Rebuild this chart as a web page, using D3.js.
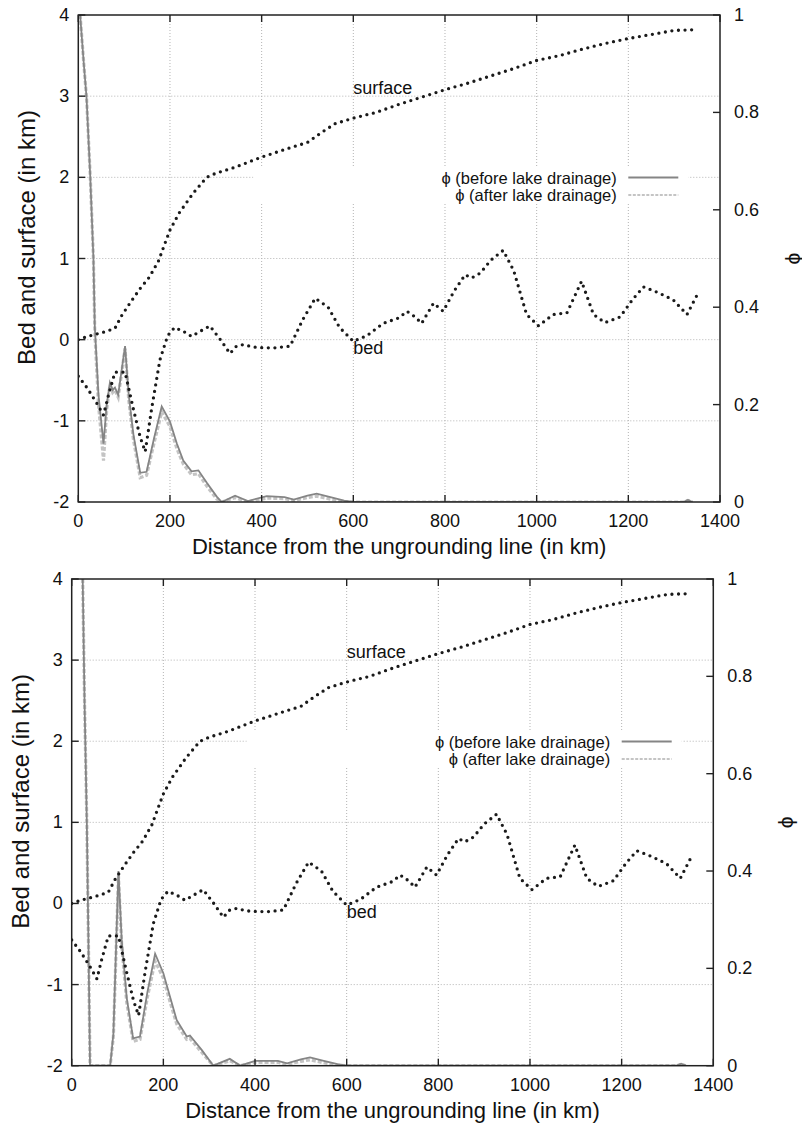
<!DOCTYPE html>
<html><head><meta charset="utf-8">
<script src="https://cdn.jsdelivr.net/npm/d3@7"></script>
<style>
body{margin:0;background:#fff}
text{font-family:"Liberation Sans", Arial, Helvetica, sans-serif; fill:#111}
</style>
</head><body>
<svg id="c" width="802" height="1123"></svg>
<script>
// ---------- data ----------
const xTicks = [0, 200, 400, 600, 800, 1000, 1200, 1400];
const yTicks = [-2, -1, 0, 1, 2, 3, 4];
const y2Ticks = [0, 0.2, 0.4, 0.6, 0.8, 1];
const y2TickLabels = ["0", "0.2", "0.4", "0.6", "0.8", "1"];
const xGrid = [200, 400, 600, 800, 1000, 1200];
const yGrid = [-1, 0, 1, 2, 3];

const surfaceDist = [0, 20, 40, 60, 80, 95, 115, 135, 155, 175, 190, 200, 220, 250, 280, 300, 340, 400, 460, 500, 530, 560, 600, 650, 700, 750, 800, 850, 900, 950, 1000, 1050, 1100, 1150, 1200, 1250, 1300, 1350];
const surfaceKm = [0.0, 0.04, 0.07, 0.1, 0.14, 0.3, 0.47, 0.63, 0.77, 0.97, 1.2, 1.35, 1.56, 1.8, 2.0, 2.05, 2.12, 2.25, 2.36, 2.43, 2.55, 2.66, 2.73, 2.8, 2.9, 2.99, 3.08, 3.16, 3.25, 3.34, 3.44, 3.5, 3.58, 3.65, 3.71, 3.76, 3.81, 3.82];

const bedDist = [0, 20, 40, 55, 65, 80, 102, 120, 135, 146, 160, 178, 195, 210, 230, 247, 265, 287, 310, 331, 345, 360, 380, 404, 430, 462, 490, 517, 545, 570, 600, 630, 665, 700, 717, 735, 749, 775, 796, 820, 844, 858, 877, 900, 927, 950, 978, 1004, 1036, 1066, 1098, 1124, 1149, 1182, 1210, 1233, 1265, 1298, 1328, 1349];
const bedKm = [-0.45, -0.6, -0.78, -0.93, -0.7, -0.4, -0.4, -0.85, -1.2, -1.38, -0.85, -0.25, 0.05, 0.15, 0.1, 0.04, 0.1, 0.17, 0.0, -0.17, -0.08, -0.06, -0.09, -0.1, -0.1, -0.08, 0.25, 0.51, 0.4, 0.15, -0.02, 0.05, 0.2, 0.27, 0.35, 0.28, 0.2, 0.45, 0.35, 0.6, 0.8, 0.76, 0.82, 0.98, 1.1, 0.85, 0.31, 0.17, 0.31, 0.33, 0.72, 0.31, 0.21, 0.28, 0.5, 0.65, 0.58, 0.49, 0.31, 0.54];

const phiDistTop = [4, 12, 18, 26, 33, 36, 44, 55, 62, 69, 75, 80, 87, 102, 110, 120, 135, 149, 165, 182, 200, 215, 229, 247, 262, 280, 302, 313, 342, 370, 411, 450, 470, 500, 520, 550, 580, 600, 800, 1000, 1200, 1320, 1330, 1340];
const phiBeforeTop = [1.0, 0.9, 0.83, 0.67, 0.5, 0.36, 0.22, 0.12, 0.2, 0.245, 0.23, 0.235, 0.22, 0.32, 0.22, 0.14, 0.06, 0.062, 0.13, 0.196, 0.165, 0.12, 0.085, 0.063, 0.065, 0.04, 0.011, 0.0, 0.013, 0.002, 0.012, 0.01, 0.005, 0.013, 0.017, 0.01, 0.003, 0.0, 0, 0, 0, 0, 0.004, 0];
const phiAfterTop = [1.0, 0.9, 0.83, 0.67, 0.5, 0.35, 0.2, 0.085, 0.19, 0.24, 0.225, 0.23, 0.215, 0.315, 0.21, 0.13, 0.05, 0.055, 0.12, 0.185, 0.155, 0.11, 0.078, 0.056, 0.058, 0.033, 0.006, 0.0, 0.009, 0.0, 0.008, 0.007, 0.003, 0.009, 0.012, 0.006, 0.001, 0, 0, 0, 0, 0, 0.003, 0];

const phiDistBottom = [24, 28, 33, 37, 40, 60, 84, 91, 102, 109, 120, 134, 149, 165, 182, 200, 215, 229, 251, 258, 284, 309, 345, 368, 400, 450, 470, 500, 520, 550, 580, 600, 800, 1000, 1200, 1320, 1330, 1340];
const phiBeforeBottom = [1.0, 0.75, 0.5, 0.22, 0, 0, 0, 0.066, 0.4, 0.26, 0.14, 0.056, 0.06, 0.15, 0.23, 0.19, 0.14, 0.094, 0.06, 0.062, 0.032, 0, 0.014, 0, 0.01, 0.01, 0.005, 0.013, 0.017, 0.01, 0.003, 0, 0, 0, 0, 0, 0.004, 0];
const phiAfterBottom = [1.0, 0.75, 0.5, 0.22, 0, 0, 0, 0.06, 0.39, 0.25, 0.13, 0.05, 0.054, 0.14, 0.215, 0.18, 0.13, 0.086, 0.054, 0.056, 0.027, 0, 0.01, 0, 0.007, 0.007, 0.003, 0.009, 0.012, 0.006, 0.001, 0, 0, 0, 0, 0, 0.003, 0];

const legendLabels = ["\u03d5 (before lake drainage)", "\u03d5 (after lake drainage)"];
const xLabel = "Distance from the ungrounding line (in km)";
const yLabel = "Bed and surface (in km)";
const y2Label = "\u03d5";

// ---------- drawing ----------
const svg = d3.select("#c");
const panels = [
  {L: 78.3, R: 720, T: 15, B: 502, dist: phiDistTop, before: phiBeforeTop, after: phiAfterTop},
  {L: 71.7, R: 713.3, T: 579, B: 1065.7, dist: phiDistBottom, before: phiBeforeBottom, after: phiAfterBottom}
];

panels.forEach((p, i) => {
  const g = svg.append("g");
  const x = d3.scaleLinear().domain([0, 1400]).range([p.L, p.R]);
  const y = d3.scaleLinear().domain([-2, 4]).range([p.B, p.T]);
  const y2 = d3.scaleLinear().domain([0, 1]).range([p.B, p.T]);

  const clipId = "clip" + i;
  svg.append("clipPath").attr("id", clipId).append("rect")
    .attr("x", p.L).attr("y", p.T).attr("width", p.R - p.L).attr("height", p.B - p.T);

  // grid
  const grid = g.append("g").attr("stroke", "#b4b4b4").attr("stroke-width", 1).attr("stroke-dasharray", "1,2");
  grid.selectAll("line.v").data(xGrid).join("line")
    .attr("x1", d => x(d)).attr("x2", d => x(d)).attr("y1", p.T).attr("y2", p.B);
  grid.selectAll("line.h").data(yGrid).join("line")
    .attr("x1", p.L).attr("x2", p.R).attr("y1", d => y(d)).attr("y2", d => y(d));

  // legend box (opaque)
  g.append("rect").attr("x", p.L + 175).attr("y", p.T + 153).attr("width", 435).attr("height", 36).attr("fill", "#fff");

  const curves = g.append("g").attr("clip-path", `url(#${clipId})`);
  const lineKm = d3.line().x(d => x(d[0])).y(d => y(d[1]));
  const linePhi = d3.line().x(d => x(d[0])).y(d => y2(d[1]));

  // phi after (light dashed, wide) then before (solid grey)
  curves.append("path").datum(p.dist.map((d, k) => [d, p.after[k]]))
    .attr("d", linePhi).attr("fill", "none").attr("stroke", "#c4c4c4").attr("stroke-width", 3.2)
    .attr("stroke-dasharray", "4,2");
  curves.append("path").datum(p.dist.map((d, k) => [d, p.before[k]]))
    .attr("d", linePhi).attr("fill", "none").attr("stroke", "#858585").attr("stroke-width", 1.8);

  // surface and bed dotted
  [[surfaceDist, surfaceKm], [bedDist, bedKm]].forEach(([xs, ys]) => {
    curves.append("path").datum(xs.map((d, k) => [d, ys[k]]))
      .attr("d", lineKm).attr("fill", "none").attr("stroke", "#1a1a1a")
      .attr("stroke-width", 3.3).attr("stroke-linecap", "round").attr("stroke-dasharray", "0,6.6");
  });

  // border
  g.append("rect").attr("x", p.L).attr("y", p.T).attr("width", p.R - p.L).attr("height", p.B - p.T)
    .attr("fill", "none").attr("stroke", "#222").attr("stroke-width", 1.5);

  // ticks
  const tk = g.append("g").attr("stroke", "#222").attr("stroke-width", 1.4);
  const tl = 7;
  tk.selectAll("line.xb").data(xTicks).join("line").attr("class", "xb")
    .attr("x1", d => x(d)).attr("x2", d => x(d)).attr("y1", p.B).attr("y2", p.B - tl);
  tk.selectAll("line.xt").data(xTicks).join("line").attr("class", "xt")
    .attr("x1", d => x(d)).attr("x2", d => x(d)).attr("y1", p.T).attr("y2", p.T + tl);
  tk.selectAll("line.yl").data(yTicks).join("line").attr("class", "yl")
    .attr("x1", p.L).attr("x2", p.L + tl).attr("y1", d => y(d)).attr("y2", d => y(d));
  tk.selectAll("line.yr").data(y2Ticks).join("line").attr("class", "yr")
    .attr("x1", p.R).attr("x2", p.R - tl).attr("y1", d => y2(d)).attr("y2", d => y2(d));

  // tick labels
  const fs = 18;
  g.selectAll("text.xl").data(xTicks).join("text").attr("class", "xl")
    .attr("x", d => x(d)).attr("y", p.B + 19).attr("text-anchor", "middle")
    .attr("dominant-baseline", "central").attr("font-size", fs).text(d => d);
  g.selectAll("text.yl").data(yTicks).join("text").attr("class", "yl")
    .attr("x", p.L - 9).attr("y", d => y(d)).attr("text-anchor", "end")
    .attr("dominant-baseline", "central").attr("font-size", fs).text(d => d);
  g.selectAll("text.y2l").data(y2Ticks).join("text").attr("class", "y2l")
    .attr("x", p.R + 14).attr("y", d => y2(d)).attr("text-anchor", "start")
    .attr("dominant-baseline", "central").attr("font-size", fs).text((d, k) => y2TickLabels[k]);

  // axis labels
  g.append("text").attr("x", (p.L + p.R) / 2).attr("y", p.B + 52).attr("text-anchor", "middle")
    .attr("font-size", 22).text(xLabel);
  g.append("text").attr("transform", `translate(${p.L - 43},${(p.T + p.B) / 2 - 21}) rotate(-90)`)
    .attr("text-anchor", "middle").attr("font-size", 24).text(yLabel);
  g.append("text").attr("transform", `translate(${p.R + 72},${(p.T + p.B) / 2}) rotate(-90)`)
    .attr("text-anchor", "middle").attr("dominant-baseline", "central").attr("font-size", 21).text(y2Label);

  // curve labels
  g.append("text").attr("x", x(600)).attr("y", y(3.1)).attr("dominant-baseline", "central")
    .attr("font-size", fs).text("surface");
  g.append("text").attr("x", x(600)).attr("y", y(-0.1)).attr("dominant-baseline", "central")
    .attr("font-size", fs).text("bed");

  // legend
  const lg = g.append("g");
  legendLabels.forEach((t, k) => {
    const yy = p.T + 162.5 + k * 17.5;
    lg.append("text").attr("x", p.L + 538.5).attr("y", yy).attr("text-anchor", "end")
      .attr("dominant-baseline", "central").attr("font-size", 16.5).text(t);
    const ln = lg.append("line").attr("x1", p.L + 550).attr("x2", p.L + 600).attr("y1", yy).attr("y2", yy);
    if (k === 0) ln.attr("stroke", "#858585").attr("stroke-width", 2.2);
    else ln.attr("stroke", "#c4c4c4").attr("stroke-width", 2.2).attr("stroke-dasharray", "3,1.5");
  });
});
</script>
</body></html>
